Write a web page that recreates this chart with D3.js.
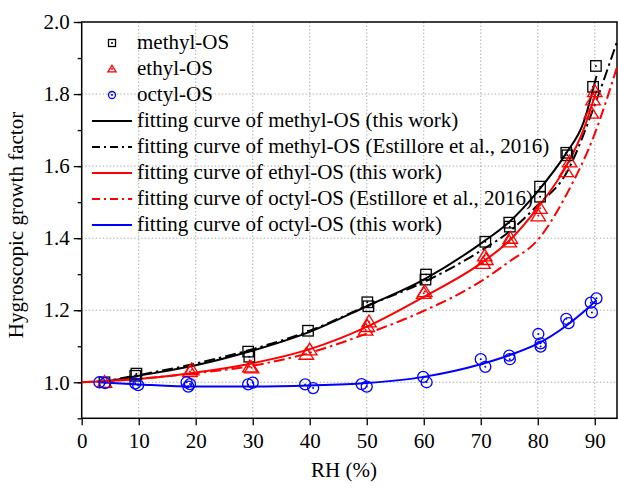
<!DOCTYPE html>
<html>
<head>
<meta charset="utf-8">
<script src="https://cdn.jsdelivr.net/npm/d3@7"></script>
<style>
  body { margin: 0; background: #fff; }
</style>
</head>
<body>
<script>
// measured points [RH, GF]
const methylPts = [[4, 1.0], [9.4, 1.018], [9.6, 1.024], [29.2, 1.085], [29.4, 1.071], [39.7, 1.143],
  [50.1, 1.222], [50.3, 1.211], [60.4, 1.299], [60.3, 1.285], [70.8, 1.39], [75, 1.443], [75.1, 1.432],
  [80.4, 1.543], [80.4, 1.515], [85, 1.637], [85.2, 1.63], [89.7, 1.82], [90.2, 1.878]];
const ethylPts = [[4, 1.0], [19.3, 1.035], [19, 1.03], [29.5, 1.043], [29.8, 1.04], [39.4, 1.078], [40, 1.09],
  [49.8, 1.145], [50.4, 1.168], [50.1, 1.155], [60, 1.247], [60.2, 1.252], [70.4, 1.33], [70.9, 1.341],
  [70.7, 1.351], [75, 1.39], [75.2, 1.4], [80.1, 1.462], [80.4, 1.483], [85, 1.585], [85.6, 1.612],
  [89.4, 1.747], [89.7, 1.784], [90, 1.807]];
const octylPts = [[3.1, 1.0], [4.1, 0.998], [9.4, 0.997], [9.9, 0.992], [18.4, 1.0], [19, 0.995], [18.7, 0.988],
  [29.2, 0.994], [30, 0.999], [39.2, 0.994], [40.6, 0.984], [49.1, 0.995], [50, 0.988], [59.9, 1.015],
  [60.5, 1.0], [70, 1.064], [70.8, 1.043], [75, 1.074], [75.1, 1.064], [80.1, 1.134], [80.5, 1.108],
  [80.5, 1.099], [85, 1.176], [85.4, 1.164], [89.3, 1.221], [90.3, 1.233], [89.5, 1.194]];

// fitting curves
const methylFitX = [3.7, 10, 20, 30, 40, 50, 60, 70, 75, 80, 85, 88, 90.3];
const methylFitY = [1.0, 1.018, 1.047, 1.088, 1.14, 1.211, 1.285, 1.385, 1.445, 1.53, 1.636, 1.72, 1.85];
const methylEstX = [3, 10, 20, 30, 40, 50, 60, 70, 75, 80, 85, 90, 94];
const methylEstY = [1.0, 1.02, 1.052, 1.092, 1.143, 1.212, 1.278, 1.365, 1.418, 1.492, 1.58, 1.77, 1.95];
const ethylFitX = [0, 10, 20, 30, 40, 50, 60, 70, 75, 80, 85, 88, 90.3];
const ethylFitY = [1.0, 1.009, 1.027, 1.053, 1.092, 1.154, 1.237, 1.33, 1.393, 1.485, 1.6, 1.7, 1.81];
const octylEstX = [0, 10, 20, 30, 40, 50, 60, 70, 75, 80, 85, 90, 94];
const octylEstY = [1.0, 1.01, 1.025, 1.046, 1.082, 1.135, 1.198, 1.28, 1.335, 1.395, 1.52, 1.69, 1.88];
const octylFitX = [3, 10, 20, 30, 40, 50, 60, 70, 75, 80, 85, 88, 90.3];
const octylFitY = [1.0, 0.994, 0.988, 0.988, 0.991, 0.998, 1.015, 1.05, 1.075, 1.107, 1.157, 1.195, 1.228];

const xTicks = [0, 10, 20, 30, 40, 50, 60, 70, 80, 90];
const yTicks = [1.0, 1.2, 1.4, 1.6, 1.8, 2.0];
const yMinor = [0.9, 1.0, 1.1, 1.2, 1.3, 1.4, 1.5, 1.6, 1.7, 1.8, 1.9, 2.0];

const width = 618;
const height = 488;
const plotL = 81.7, plotR = 617, plotT = 22, plotB = 418.3;
const serif = "'Liberation Serif', 'Times New Roman', serif";

const x = d3.scaleLinear().domain([0, 93.9]).range([plotL, plotR]);
const y = d3.scaleLinear().domain([0.9, 2.0]).range([plotB, plotT]);

const svg = d3.select("body").append("svg").attr("width", width).attr("height", height)
  .style("font-family", serif);

svg.append("clipPath").attr("id", "plot")
  .append("rect").attr("x", plotL).attr("y", plotT).attr("width", plotR - plotL).attr("height", plotB - plotT);

// grid
const grid = svg.append("g").attr("stroke", "#9a9a9a").attr("stroke-width", 0.8).attr("stroke-dasharray", "1.5,2");
grid.selectAll("line.gx").data(xTicks.slice(1)).join("line")
  .attr("x1", d => x(d)).attr("x2", d => x(d)).attr("y1", plotT).attr("y2", plotB);
grid.selectAll("line.gy").data(yTicks.slice(0, -1)).join("line")
  .attr("x1", plotL).attr("x2", plotR).attr("y1", d => y(d)).attr("y2", d => y(d));

// axes
const xAxis = svg.append("g").attr("transform", `translate(0,${plotB})`)
  .call(d3.axisBottom(x).tickValues(xTicks).tickSize(7).tickPadding(8).tickSizeOuter(0));
const yMinorAxis = svg.append("g").attr("transform", `translate(${plotL},0)`)
  .call(d3.axisLeft(y).tickValues(yMinor).tickSize(4).tickFormat("").tickSizeOuter(0));
const yAxis = svg.append("g").attr("transform", `translate(${plotL},0)`)
  .call(d3.axisLeft(y).tickValues(yTicks).tickSize(8).tickPadding(4).tickFormat(d3.format(".1f")).tickSizeOuter(0));
[xAxis, yAxis, yMinorAxis].forEach(a => {
  a.attr("font-family", null).attr("font-size", 21);
  a.selectAll("path.domain").remove();
  a.selectAll("line").attr("stroke", "#000").attr("stroke-width", 1.3);
  a.selectAll("text").attr("fill", "#000").style("font-family", serif);
});

// frame
svg.append("rect").attr("x", plotL).attr("y", plotT).attr("width", plotR - plotL).attr("height", plotB - plotT)
  .attr("fill", "none").attr("stroke", "#000").attr("stroke-width", 1.5);

// axis titles
svg.append("text").attr("x", x(46)).attr("y", 477).attr("text-anchor", "middle")
  .attr("font-size", 21).text("RH (%)");
svg.append("text").attr("transform", "translate(23,225) rotate(-90)").attr("text-anchor", "middle")
  .attr("font-size", 21).text("Hygroscopic growth factor");

// curves
const line = d3.line().x(d => x(d[0])).y(d => y(d[1])).curve(d3.curveMonotoneX);
const curves = [
  { xs: methylFitX, ys: methylFitY, color: "#000", dash: null, label: "fitting curve of methyl-OS (this work)" },
  { xs: methylEstX, ys: methylEstY, color: "#000", dash: "11,4,2.5,4", label: "fitting curve of methyl-OS (Estillore et al., 2016)" },
  { xs: ethylFitX, ys: ethylFitY, color: "#ff0000", dash: null, label: "fitting curve of ethyl-OS (this work)" },
  { xs: octylEstX, ys: octylEstY, color: "#ff0000", dash: "11,4,2.5,4", label: "fitting curve of octyl-OS (Estillore et al., 2016)" },
  { xs: octylFitX, ys: octylFitY, color: "#0000ff", dash: null, label: "fitting curve of octyl-OS (this work)" }
];
const curveG = svg.append("g").attr("clip-path", "url(#plot)");
curves.forEach(c => {
  curveG.append("path").datum(d3.zip(c.xs, c.ys))
    .attr("d", line).attr("fill", "none").attr("stroke", c.color).attr("stroke-width", 2)
    .attr("stroke-dasharray", c.dash);
});

// markers
function drawMarker(g, type, color, s) {
  if (type === "square") {
    g.append("rect").attr("x", -s / 2).attr("y", -s / 2).attr("width", s).attr("height", s);
  } else if (type === "triangle") {
    const h = s * 0.9;
    g.append("path").attr("d", `M0,${-h * 0.6}L${s * 0.58},${h * 0.45}L${-s * 0.58},${h * 0.45}Z`);
  } else {
    g.append("circle").attr("r", s / 2);
  }
  g.selectAll("rect,path,circle").attr("fill", "none").attr("stroke", color).attr("stroke-width", 1.3);
  g.append("circle").attr("r", 1).attr("fill", color);
}
const series = [
  { pts: methylPts, type: "square", color: "#000", label: "methyl-OS", size: 10.5 },
  { pts: ethylPts, type: "triangle", color: "#ff0000", label: "ethyl-OS", size: 12.5 },
  { pts: octylPts, type: "circle", color: "#0000ff", label: "octyl-OS", size: 11 }
];
series.forEach(s => {
  svg.append("g").selectAll("g").data(s.pts).join("g")
    .attr("transform", d => `translate(${x(d[0])},${y(d[1])})`)
    .each(function () { drawMarker(d3.select(this), s.type, s.color, s.size); });
});

// legend
const legend = svg.append("g").attr("font-size", 21);
series.forEach((s, i) => {
  const ly = 43 + i * 26;
  drawMarker(legend.append("g").attr("transform", `translate(112,${ly})`), s.type, s.color, 7);
  legend.append("text").attr("x", 137).attr("y", ly + 6).text(s.label);
});
curves.forEach((c, i) => {
  const ly = 121 + i * 26;
  legend.append("line").attr("x1", 92).attr("x2", 132).attr("y1", ly).attr("y2", ly)
    .attr("stroke", c.color).attr("stroke-width", 2).attr("stroke-dasharray", c.dash ? "8,4,2,4" : null);
  legend.append("text").attr("x", 137).attr("y", ly + 6).text(c.label);
});
</script>
</body>
</html>
